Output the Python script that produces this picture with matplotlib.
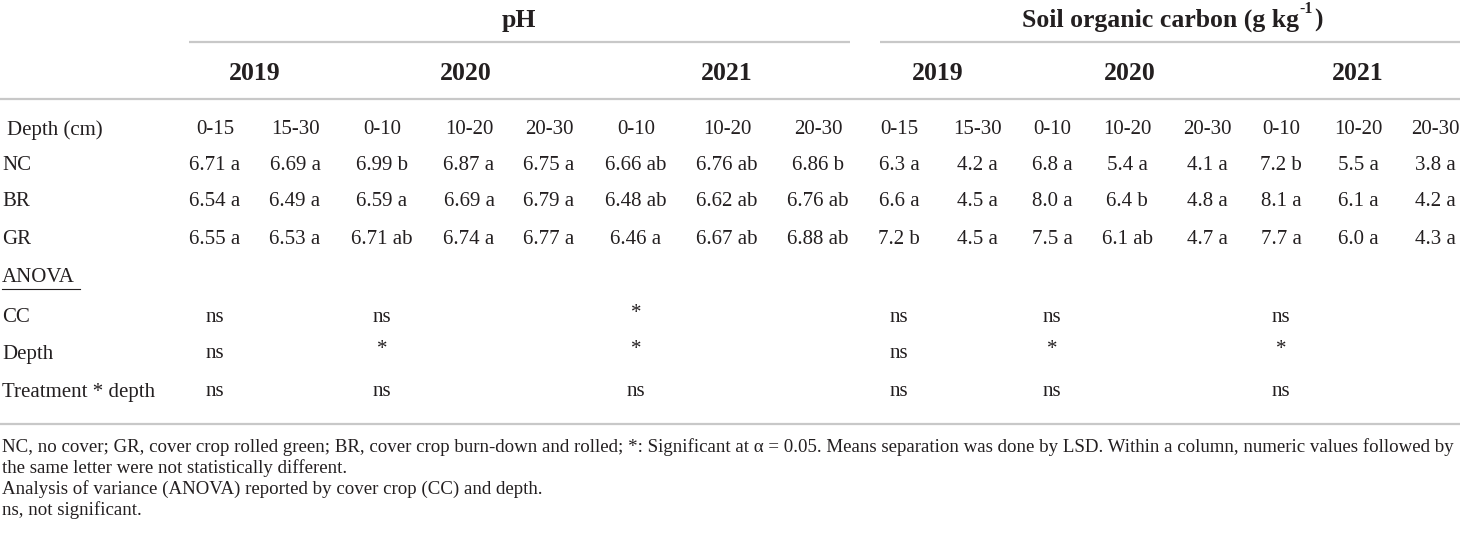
import matplotlib
matplotlib.use("Agg")
import matplotlib.pyplot as plt

# table contents
depths = ["0-15", "15-30", "0-10", "10-20", "20-30", "0-10", "10-20", "20-30",
          "0-15", "15-30", "0-10", "10-20", "20-30", "0-10", "10-20", "20-30"]
treatments = ["NC", "BR", "GR"]
nc_vals = [6.71, 6.69, 6.99, 6.87, 6.75, 6.66, 6.76, 6.86, 6.3, 4.2, 6.8, 5.4, 4.1, 7.2, 5.5, 3.8]
nc_lets = ["a", "a", "b", "a", "a", "ab", "ab", "b", "a", "a", "a", "a", "a", "b", "a", "a"]
br_vals = [6.54, 6.49, 6.59, 6.69, 6.79, 6.48, 6.62, 6.76, 6.6, 4.5, 8.0, 6.4, 4.8, 8.1, 6.1, 4.2]
br_lets = ["a", "a", "a", "a", "a", "ab", "ab", "ab", "a", "a", "a", "b", "a", "a", "a", "a"]
gr_vals = [6.55, 6.53, 6.71, 6.74, 6.77, 6.46, 6.67, 6.88, 7.2, 4.5, 7.5, 6.1, 4.7, 7.7, 6.0, 4.3]
gr_lets = ["a", "a", "ab", "a", "a", "a", "ab", "ab", "b", "a", "a", "ab", "a", "a", "a", "a"]
years = ["2019", "2020", "2021", "2019", "2020", "2021"]
year_spans = [(0, 1), (2, 4), (5, 7), (8, 9), (10, 12), (13, 15)]
anova_terms = ["CC", "Depth", "Treatment * depth"]
anova_cc = ["ns", "ns", "*", "ns", "ns", "ns"]
anova_depth = ["ns", "*", "*", "ns", "*", "*"]
anova_int = ["ns", "ns", "ns", "ns", "ns", "ns"]
footnotes = [
    "NC, no cover; GR, cover crop rolled green; BR, cover crop burn-down and rolled; *: Significant at \u03b1 = 0.05. "
    "Means separation was done by LSD. Within a column, numeric values followed by",
    "the same letter were not statistically different.",
    "Analysis of variance (ANOVA) reported by cover crop (CC) and depth.",
    "ns, not significant.",
]

W, H = 1460, 536
fig = plt.figure(figsize=(W / 100, H / 100), dpi=100)
ax = fig.add_axes([0, 0, 1, 1])
ax.set_xlim(0, W)
ax.set_ylim(H, 0)
ax.axis("off")

plt.rcParams["font.family"] = ["Liberation Serif", "DejaVu Serif"]
ink = "#231f20"
rule = "#c8c8c8"
fs = 15
fs_head = 18.5

col_x = [215, 295, 382, 469, 549, 636, 727, 818, 899, 977, 1052, 1127, 1207, 1281, 1358, 1435]

# group headers
ax.text(519, 20, "pH", ha="center", va="center", fontsize=fs_head, fontweight="bold", color=ink)
t = ax.text(1160, 20, "Soil organic carbon (g kg", ha="center", va="center",
            fontsize=fs_head, fontweight="bold", color=ink)
fig.canvas.draw()
r = fig.canvas.get_renderer()
inv = ax.transData.inverted()
bb = t.get_window_extent(r)
x_end = inv.transform((bb.x1, bb.y1))[0]
# superscript -1 sits above the cap line
sup = ax.text(x_end + 1, 9, "-1", ha="left", va="center",
              fontsize=11.5, fontweight="bold", color=ink)
fig.canvas.draw()
sb = sup.get_window_extent(r)
x_sup = inv.transform((sb.x1, sb.y1))[0]
ax.text(x_sup + 1, 20, ")", ha="left", va="center", fontsize=fs_head, fontweight="bold", color=ink)

ax.plot([189, 850], [42, 42], color=rule, lw=1.6, solid_capstyle="butt")
ax.plot([880, 1460], [42, 42], color=rule, lw=1.6, solid_capstyle="butt")

for yr, (a, b) in zip(years, year_spans):
    ax.text((col_x[a] + col_x[b]) / 2, 74, yr, ha="center", va="center",
            fontsize=fs_head, fontweight="bold", color=ink)
ax.plot([0, W], [99, 99], color=rule, lw=1.6, solid_capstyle="butt")

# depth row
ax.text(7, 130, "Depth (cm)", ha="left", va="center", fontsize=fs, color=ink)
for x, d in zip(col_x, depths):
    ax.text(x, 130, d, ha="center", va="center", fontsize=fs, color=ink)

# treatment rows
row_y = [166, 202, 239]
for y, name, vals, lets in zip(row_y, treatments, [nc_vals, br_vals, gr_vals], [nc_lets, br_lets, gr_lets]):
    ax.text(2, y, name, ha="left", va="center", fontsize=fs, color=ink)
    for i, (x, v, l) in enumerate(zip(col_x, vals, lets)):
        s = f"{v:.2f} {l}" if i < 8 else f"{v:.1f} {l}"
        ax.text(x, y, s, ha="center", va="center", fontsize=fs, color=ink)

# anova block
ax.text(2, 277, "ANOVA", ha="left", va="center", fontsize=fs, color=ink)
ax.plot([2, 80], [289, 289], color=ink, lw=0.8)
anova_y = [317, 354, 392]
for y, term, res in zip(anova_y, anova_terms, [anova_cc, anova_depth, anova_int]):
    ax.text(2, y, term, ha="left", va="center", fontsize=fs, color=ink)
    for (a, b), s in zip(year_spans, res):
        ax.text(col_x[a], y - (4 if s == "*" else 0), s, ha="center", va="center",
                fontsize=fs, color=ink)
ax.plot([0, W], [424, 424], color=rule, lw=1.6, solid_capstyle="butt")

# footnotes
for y, line in zip([447, 468, 489, 510], footnotes):
    ax.text(2, y, line, ha="left", va="center", fontsize=13.6, color=ink)

fig.savefig("out.png", dpi=100)
